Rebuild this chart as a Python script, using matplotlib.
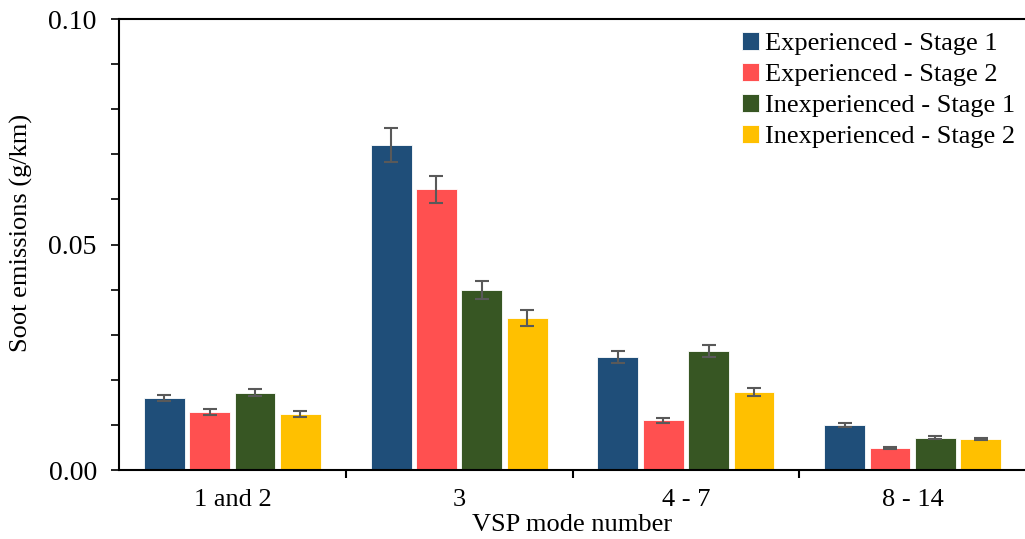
import numpy as np
import matplotlib.pyplot as plt

plt.rcParams['font.family'] = ['Liberation Serif', 'DejaVu Serif']

categories = ["1 and 2", "3", "4 - 7", "8 - 14"]
series = ["Experienced - Stage 1", "Experienced - Stage 2",
          "Inexperienced - Stage 1", "Inexperienced - Stage 2"]
exp_s1 = [0.0160, 0.0721, 0.0251, 0.0100]
exp_s2 = [0.0129, 0.0623, 0.0110, 0.0049]
inexp_s1 = [0.0171, 0.0399, 0.0264, 0.0072]
inexp_s2 = [0.0124, 0.0337, 0.0172, 0.0069]
exp_s1_err = [0.0007, 0.0037, 0.0013, 0.0004]
exp_s2_err = [0.0006, 0.0030, 0.0006, 0.0002]
inexp_s1_err = [0.0008, 0.0020, 0.0014, 0.0003]
inexp_s2_err = [0.0006, 0.0017, 0.0009, 0.0003]

values = [exp_s1, exp_s2, inexp_s1, inexp_s2]
errors = [exp_s1_err, exp_s2_err, inexp_s1_err, inexp_s2_err]
colors = ["#1F4E79", "#FF5050", "#375623", "#FFC000"]

fig = plt.figure(figsize=(10.25, 5.39), dpi=100)
ax = fig.add_axes([0.1161, 0.128, 0.8849, 0.8367])

x = np.arange(len(categories))
offsets = [-0.3, -0.1, 0.1, 0.3]
for vals, errs, col, lab, off in zip(values, errors, colors, series, offsets):
    ax.bar(x + off, vals, width=0.18, color=col, edgecolor="white", linewidth=0.6,
           label=lab, yerr=errs,
           error_kw=dict(ecolor="#595959", elinewidth=1.5, capsize=5, capthick=1.5))

ax.set_xlim(-0.5, 3.5)
ax.set_ylim(0, 0.10)
ax.set_yticks([0.0, 0.05, 0.10])
ax.set_yticklabels(["0.00", "0.05", "0.10"])
ax.set_yticks(np.arange(0, 0.101, 0.01), minor=True)
ax.tick_params(axis="y", which="both", direction="out", length=6, width=1.2,
               labelsize=20, pad=10)
ax.set_xticks(x)
ax.set_xticklabels(categories)
ax.tick_params(axis="x", which="major", length=0, labelsize=19, pad=14)
ax.set_xticks([0.5, 1.5, 2.5], minor=True)
ax.tick_params(axis="x", which="minor", direction="out", length=6, width=1.5)

for s in ["left", "bottom", "top"]:
    ax.spines[s].set_linewidth(1.5)
ax.spines["right"].set_visible(False)

ax.set_ylabel("Soot emissions (g/km)", fontsize=19)
ax.yaxis.set_label_coords(-0.095, 0.525)
ax.set_xlabel("VSP mode number", fontsize=19, labelpad=2)

ax.legend(loc="upper right", bbox_to_anchor=(1.008, 1.012), frameon=False, fontsize=19,
          handlelength=0.65, handleheight=0.65, handletextpad=0.2, labelspacing=0.3,
          borderaxespad=0.3)

fig.savefig("out.png", dpi=100)
